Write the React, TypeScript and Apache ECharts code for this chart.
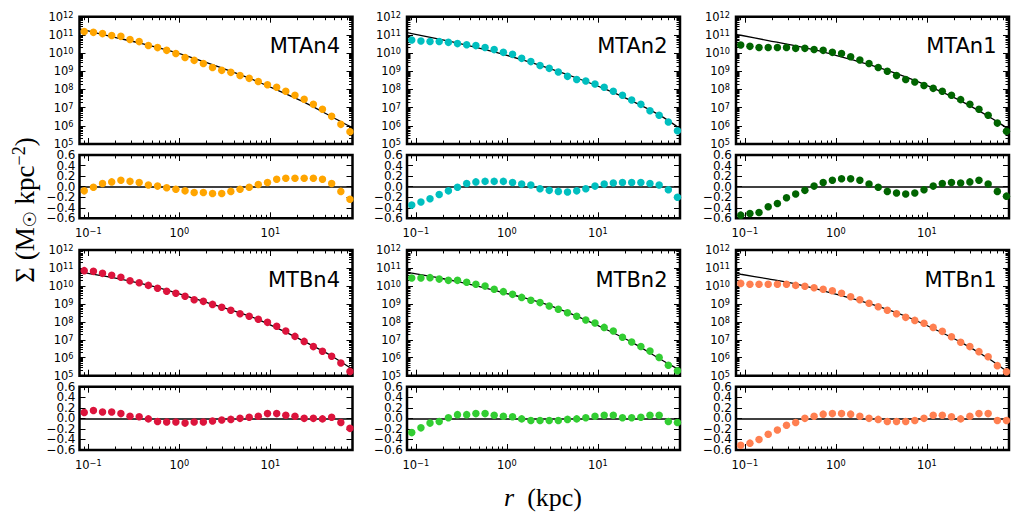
import React, { useEffect, useRef } from 'react';
import * as echarts from 'echarts';

// ---- data ----
const radii = [0.0902, 0.1138, 0.1432, 0.1807, 0.228, 0.2871, 0.3622, 0.4571, 0.5768, 0.7261, 0.9162, 1.156, 1.456, 1.837, 2.317, 2.924, 3.681, 4.645, 5.861, 7.379, 9.311, 11.75, 14.79, 18.66, 23.55, 29.72, 37.41, 47.21, 59.57, 74.99];
const modelRadii = [0.08, 0.0902, 0.1807, 0.3622, 0.7261, 1.456, 2.924, 5.861, 11.75, 23.55, 47.21, 74.99, 80];

const panelNames = ['MTAn4', 'MTAn2', 'MTAn1', 'MTBn4', 'MTBn2', 'MTBn1'];
const panelColors = ['#FFA500', '#00BFBF', '#006400', '#DC143C', '#32CD32', '#FF7F50'];

// log10 of surface density (Msun / kpc^2)
const logSigmaAn4 = [11.19, 11.14, 11.07, 10.97, 10.92, 10.75, 10.63, 10.42, 10.30, 10.15, 9.98, 9.76, 9.60, 9.43, 9.21, 9.05, 8.94, 8.77, 8.61, 8.44, 8.26, 8.12, 7.90, 7.68, 7.46, 7.18, 6.91, 6.52, 6.08, 5.68];
const logSigmaAn2 = [10.72, 10.66, 10.64, 10.64, 10.59, 10.52, 10.46, 10.41, 10.31, 10.19, 10.04, 9.93, 9.71, 9.53, 9.32, 9.16, 8.96, 8.72, 8.55, 8.46, 8.30, 8.12, 7.90, 7.68, 7.42, 7.18, 6.83, 6.58, 6.21, 5.73];
const logSigmaAn1 = [10.44, 10.37, 10.31, 10.31, 10.31, 10.31, 10.26, 10.26, 10.20, 10.15, 10.04, 9.98, 9.80, 9.62, 9.43, 9.21, 9.00, 8.77, 8.55, 8.41, 8.22, 8.06, 7.90, 7.68, 7.44, 7.18, 6.91, 6.58, 6.15, 5.70];
const logSigmaBn4 = [10.85, 10.81, 10.70, 10.59, 10.48, 10.29, 10.18, 10.03, 9.87, 9.70, 9.59, 9.42, 9.23, 9.14, 8.97, 8.81, 8.64, 8.45, 8.31, 8.14, 7.97, 7.75, 7.49, 7.19, 6.91, 6.62, 6.36, 6.08, 5.71, 5.24];
const logSigmaBn2 = [10.44, 10.44, 10.46, 10.38, 10.31, 10.31, 10.20, 10.09, 9.99, 9.81, 9.68, 9.53, 9.36, 9.20, 9.07, 8.88, 8.70, 8.51, 8.31, 8.10, 7.93, 7.69, 7.49, 7.14, 6.88, 6.63, 6.37, 6.02, 5.58, 5.28];
const logSigmaBn1 = [10.14, 10.09, 10.09, 10.09, 10.09, 10.09, 10.03, 9.98, 9.90, 9.81, 9.73, 9.59, 9.40, 9.23, 9.03, 8.84, 8.64, 8.45, 8.25, 8.08, 7.92, 7.69, 7.47, 7.17, 6.86, 6.62, 6.34, 6.06, 5.56, 5.22];

// residuals (dex)
const residAn4 = [-0.08, -0.01, 0.06, 0.09, 0.12, 0.10, 0.08, 0.03, 0.01, -0.02, -0.05, -0.08, -0.11, -0.11, -0.13, -0.13, -0.09, -0.05, -0.01, 0.04, 0.08, 0.14, 0.16, 0.16, 0.16, 0.16, 0.14, 0.06, -0.09, -0.24];
const residAn2 = [-0.35, -0.29, -0.23, -0.15, -0.08, -0.01, 0.06, 0.09, 0.10, 0.10, 0.10, 0.08, 0.05, 0.03, -0.04, -0.07, -0.09, -0.10, -0.08, -0.04, 0.01, 0.05, 0.07, 0.08, 0.08, 0.08, 0.06, 0.03, -0.06, -0.20];
const residAn1 = [-0.54, -0.51, -0.49, -0.38, -0.32, -0.21, -0.14, -0.07, 0.01, 0.08, 0.12, 0.15, 0.15, 0.12, 0.05, -0.01, -0.09, -0.12, -0.14, -0.12, -0.06, 0.01, 0.06, 0.08, 0.07, 0.09, 0.12, 0.05, -0.09, -0.18];
const residBn4 = [0.11, 0.15, 0.12, 0.12, 0.09, 0.04, 0.03, -0.01, -0.06, -0.07, -0.07, -0.09, -0.07, -0.07, -0.05, -0.03, -0.02, 0.00, 0.02, 0.04, 0.09, 0.09, 0.06, 0.04, 0.00, 0.00, -0.01, 0.02, -0.08, -0.19];
const residBn2 = [-0.27, -0.18, -0.09, -0.06, 0.01, 0.07, 0.07, 0.09, 0.09, 0.06, 0.04, 0.03, -0.01, -0.04, -0.04, -0.04, -0.04, -0.02, -0.01, 0.01, 0.04, 0.06, 0.06, 0.01, 0.01, 0.02, 0.06, 0.06, -0.06, -0.08];
const residBn1 = [-0.51, -0.47, -0.40, -0.30, -0.22, -0.13, -0.08, 0.00, 0.04, 0.08, 0.09, 0.09, 0.08, 0.04, 0.00, -0.02, -0.06, -0.06, -0.06, -0.04, 0.00, 0.06, 0.06, 0.03, -0.01, 0.04, 0.09, 0.09, -0.04, -0.04];

// log10 of the fitted model at modelRadii
const modelAn4 = [11.33, 11.27, 10.90, 10.56, 10.17, 9.71, 9.18, 8.62, 7.98, 7.30, 6.50, 5.97, 5.92];
const modelAn2 = [11.12, 11.07, 10.77, 10.44, 10.06, 9.64, 9.16, 8.63, 8.04, 7.37, 6.60, 5.95, 5.88];
const modelAn1 = [11.03, 10.98, 10.69, 10.40, 10.07, 9.65, 9.22, 8.69, 8.07, 7.37, 6.53, 5.90, 5.83];
const modelBn4 = [10.79, 10.74, 10.47, 10.15, 9.77, 9.30, 8.82, 8.33, 7.66, 6.91, 6.10, 5.45, 5.38];
const modelBn2 = [10.75, 10.71, 10.44, 10.13, 9.75, 9.37, 8.92, 8.32, 7.63, 6.87, 5.96, 5.38, 5.30];
const modelBn1 = [10.70, 10.65, 10.39, 10.11, 9.73, 9.32, 8.86, 8.31, 7.63, 6.87, 5.97, 5.26, 5.18];

const logSigmas = [logSigmaAn4, logSigmaAn2, logSigmaAn1, logSigmaBn4, logSigmaBn2, logSigmaBn1];
const residuals = [residAn4, residAn2, residAn1, residBn4, residBn2, residBn1];
const models = [modelAn4, modelAn2, modelAn1, modelBn4, modelBn2, modelBn1];

// ticks
const xMajorTicks = [0.1, 1, 10];
const yMajorTicks = [1e5, 1e6, 1e7, 1e8, 1e9, 1e10, 1e11, 1e12];
const residTicks = [-0.6, -0.4, -0.2, 0, 0.2, 0.4, 0.6];
const residLabelsA = [-0.6, -0.2, 0.2, 0.6];
const residLabelsB = [-0.4, 0, 0.4];
const xMinorTicks: number[] = [];
[-2, -1, 0, 1].forEach((d) => {
  for (let k = 2; k <= 9; k++) {
    const v = Number((k * Math.pow(10, d)).toPrecision(3));
    if (v > 0.08 && v < 80) xMinorTicks.push(v);
  }
});
const yMinorTicks: number[] = [];
for (let d = 5; d <= 11; d++) {
  for (let k = 2; k <= 9; k++) yMinorTicks.push(k * Math.pow(10, d));
}

// ---- layout ----
const colLeft = [79.5, 407, 736];
const colWidth = 273;
const rowsLayout = [
  { mainTop: 16.7, mainH: 127.3, resTop: 155, resH: 63.3 },
  { mainTop: 250, mainH: 125.7, resTop: 386.7, resH: 63.3 },
];

const FONT = "'DejaVu Sans', sans-serif";
const SERIF = "'Liberation Serif', 'DejaVu Serif', serif";
const powLabel = (v: number) => {
  const e = Math.round(Math.log10(v));
  return '{b|10}{s|' + String(e).replace('-', '−') + '}';
};
const powRich = {
  b: { fontSize: 11.5, fontFamily: FONT, color: '#000', lineHeight: 12, padding: [5, 0, 0, 0], verticalAlign: 'bottom' },
  s: { fontSize: 8.2, fontFamily: FONT, color: '#000', lineHeight: 8, verticalAlign: 'top' },
};
const resLabel = (v: number) => (Math.abs(v) < 1e-9 ? '0.0' : v.toFixed(1)).replace('-', '−');

function buildOption() {
  const grid: any[] = [];
  const xAxis: any[] = [];
  const yAxis: any[] = [];
  const series: any[] = [];
  const graphic: any[] = [];

  const tickStyle = { color: '#000', width: 1 };

  const addX = (gridIndex: number, labels: boolean) => {
    const first = xAxis.length;
    (['bottom', 'top'] as const).forEach((pos) => {
      [true, false].forEach((major) => {
        xAxis.push({
          type: 'log',
          gridIndex,
          position: pos,
          min: 0.08,
          max: 80,
          axisLine: { show: false, onZero: false },
          splitLine: { show: false },
          minorTick: { show: false },
          axisTick: {
            show: true,
            inside: true,
            length: major ? 6 : 3.5,
            customValues: major ? xMajorTicks : xMinorTicks,
            lineStyle: tickStyle,
          },
          axisLabel: {
            show: labels && major && pos === 'bottom',
            customValues: xMajorTicks,
            formatter: powLabel,
            rich: powRich,
            margin: 9,
          },
        });
      });
    });
    return first;
  };

  const addLogY = (gridIndex: number) => {
    const first = yAxis.length;
    (['left', 'right'] as const).forEach((pos) => {
      [true, false].forEach((major) => {
        yAxis.push({
          type: 'log',
          gridIndex,
          position: pos,
          min: 1e5,
          max: 1e12,
          axisLine: { show: false, onZero: false },
          splitLine: { show: false },
          minorTick: { show: false },
          axisTick: {
            show: true,
            inside: true,
            length: major ? 6 : 3.5,
            customValues: major ? yMajorTicks : yMinorTicks,
            lineStyle: tickStyle,
          },
          axisLabel: {
            show: major && pos === 'left',
            customValues: yMajorTicks,
            formatter: powLabel,
            rich: powRich,
            margin: 6,
          },
        });
      });
    });
    return first;
  };

  const addResY = (gridIndex: number) => {
    const first = yAxis.length;
    // left axes: two label sets so that every label is kept
    [residLabelsA, residLabelsB].forEach((labelSet, k) => {
      yAxis.push({
        type: 'value',
        gridIndex,
        position: 'left',
        min: -0.6,
        max: 0.6,
        interval: 0.2,
        axisLine: { show: false, onZero: false },
        splitLine: { show: false },
        axisTick: { show: k === 0, inside: true, length: 6, customValues: residTicks, lineStyle: tickStyle },
        axisLabel: {
          show: true,
          customValues: labelSet,
          showMinLabel: true,
          showMaxLabel: true,
          hideOverlap: false,
          formatter: resLabel,
          fontSize: 12,
          lineHeight: 10,
          fontFamily: FONT,
          color: '#000',
          margin: 4,
        },
      });
    });
    yAxis.push({
      type: 'value',
      gridIndex,
      position: 'right',
      min: -0.6,
      max: 0.6,
      interval: 0.2,
      axisLine: { show: false, onZero: false },
      splitLine: { show: false },
      axisTick: { show: true, inside: true, length: 6, customValues: residTicks, lineStyle: tickStyle },
      axisLabel: { show: false },
    });
    return first;
  };

  panelNames.forEach((name, idx) => {
    const col = idx % 3;
    const row = Math.floor(idx / 3);
    const L = rowsLayout[row];
    const left = colLeft[col];
    const color = panelColors[idx];

    const gMain = grid.length;
    grid.push({ left, top: L.mainTop, width: colWidth, height: L.mainH, show: true, borderColor: '#000', borderWidth: 2.5, backgroundColor: 'transparent' });
    const gRes = grid.length;
    grid.push({ left, top: L.resTop, width: colWidth, height: L.resH, show: true, borderColor: '#000', borderWidth: 2.5, backgroundColor: 'transparent' });

    const xm = addX(gMain, false);
    const ym = addLogY(gMain);
    const xr = addX(gRes, true);
    const yr = addResY(gRes);

    series.push({
      type: 'line',
      xAxisIndex: xm,
      yAxisIndex: ym,
      data: modelRadii.map((r, i) => [r, Math.pow(10, models[idx][i])]),
      showSymbol: false,
      smooth: 0.3,
      lineStyle: { color: '#000', width: 1.3 },
      z: 2,
      silent: true,
    });
    series.push({
      type: 'scatter',
      xAxisIndex: xm,
      yAxisIndex: ym,
      data: radii.map((r, i) => [r, Math.pow(10, logSigmas[idx][i])]),
      symbol: 'circle',
      symbolSize: 7.5,
      itemStyle: { color, opacity: 1 },
      z: 3,
      silent: true,
    });
    series.push({
      type: 'scatter',
      xAxisIndex: xr,
      yAxisIndex: yr,
      data: radii.map((r, i) => [r, residuals[idx][i]]),
      symbol: 'circle',
      symbolSize: 7.5,
      itemStyle: { color, opacity: 1 },
      z: 3,
      silent: true,
      markLine: {
        silent: true,
        symbol: 'none',
        label: { show: false },
        lineStyle: { color: '#000', width: 1.5, type: 'solid' },
        data: [{ yAxis: 0 }],
        z: 2,
      },
    });

    graphic.push({
      type: 'text',
      x: left + colWidth - 12.5,
      y: L.mainTop + 29.5,
      silent: true,
      style: { text: name, fontSize: 21, fontFamily: FONT, fill: '#000', align: 'right', verticalAlign: 'middle' },
    });
  });

  graphic.push({
    type: 'text',
    x: 25,
    y: 210,
    rotation: Math.PI / 2,
    silent: true,
    style: {
      text: '{n|Σ (M}{sub|☉}{n| kpc}{sup|−2}{n|)}',
      align: 'center',
      verticalAlign: 'middle',
      fill: '#000',
      rich: {
        n: { fontSize: 27, fontFamily: SERIF, fill: '#000' },
        sub: { fontSize: 18, fontFamily: FONT, fill: '#000', padding: [8, 0, 0, 0] },
        sup: { fontSize: 18, fontFamily: SERIF, fill: '#000', padding: [0, 0, 13, 0] },
      },
    },
  });
  graphic.push({
    type: 'text',
    x: 543,
    y: 497,
    silent: true,
    style: {
      text: '{i|r}{n|  (kpc)}',
      align: 'center',
      verticalAlign: 'middle',
      fill: '#000',
      rich: {
        i: { fontSize: 26, fontFamily: SERIF, fontStyle: 'italic', fill: '#000' },
        n: { fontSize: 26, fontFamily: SERIF, fill: '#000' },
      },
    },
  });

  return { animation: false, backgroundColor: '#fff', grid, xAxis, yAxis, series, graphic };
}

export default function App() {
  const ref = useRef<HTMLDivElement>(null);
  useEffect(() => {
    if (!ref.current) return;
    const chart = echarts.init(ref.current, undefined, { renderer: 'svg' });
    chart.setOption(buildOption() as any);
    return () => chart.dispose();
  }, []);
  return <div ref={ref} style={{ position: 'fixed', left: 0, top: 0, width: 1019, height: 520 }} />;
}
